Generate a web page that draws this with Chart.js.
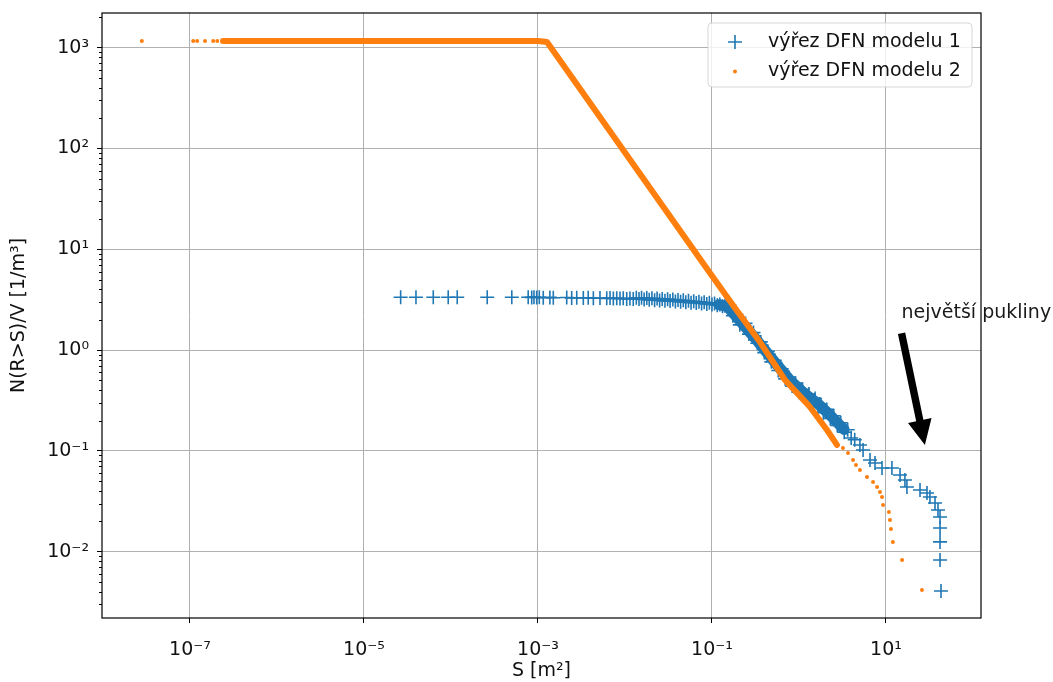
<!DOCTYPE html>
<html>
<head>
<meta charset="utf-8">
<script src="https://cdn.jsdelivr.net/npm/chart.js@4.4.1/dist/chart.umd.min.js"></script>
<style>
  body { margin: 0; background: #fff; }
  canvas { display: block; }
</style>
</head>
<body>
<canvas id="fracChart" width="1053" height="682"></canvas>
<script>
// values (S in m2, N(R>S)/V in 1/m3)

// model 1 - plus markers
const model1S = [
  2.64e-5, 3.96e-5, 6.26e-5, 9.3e-5, 1.18e-4, 2.61e-4, 5.0e-4,
  7.72e-4, 8.47e-4, 8.99e-4, 9.66e-4, 1.035e-3, 1.15e-3, 1.37e-3, 1.50e-3, 2.14e-3, 2.44e-3, 2.79e-3, 3.32e-3,
  3.78e-3, 4.33e-3, 5.16e-3, 6.17e-3, 6.73e-3, 7.35e-3, 8.04e-3, 8.77e-3, 9.55e-3, 0.01047, 0.0114, 0.01245,
  0.0135, 0.0145, 0.0155, 0.0166, 0.0178, 0.019, 0.0204, 0.0219, 0.0234, 0.025, 0.0268, 0.0288, 0.0309, 0.033,
  0.0355, 0.038, 0.0407, 0.0436, 0.0468, 0.050, 0.0537, 0.0575, 0.0617, 0.066, 0.0708, 0.0759, 0.0813, 0.0871,
  0.0933, 0.10, 0.107, 0.115, 0.123, 0.132, 0.141, 0.151,
  0.1585, 0.1738, 0.1905, 0.2089, 0.243, 0.266, 0.300, 0.332, 0.364, 0.399, 0.438, 0.481, 0.527, 0.578, 0.633,
  0.694, 0.761, 0.835, 0.915, 1.003, 1.10, 1.195, 1.30, 1.42, 1.53, 1.65, 1.738, 1.905, 2.089, 2.291, 2.512,
  2.754, 3.02, 3.311, 3.63, 3.98, 4.37,
  5.02, 5.45, 6.55, 7.48, 9.0, 11.7, 14.5, 16.5, 17.4, 24.6, 29.6, 32.0, 36.6, 39.6, 41.8, 41.8, 41.8, 41.8, 42.9
];
const model1N = [
  3.34, 3.34, 3.34, 3.34, 3.34, 3.34, 3.34,
  3.34, 3.33, 3.35, 3.32, 3.34, 3.31, 3.33, 3.30, 3.32, 3.29, 3.31, 3.28,
  3.30, 3.27, 3.29, 3.26, 3.28, 3.25, 3.27, 3.24, 3.26, 3.22, 3.25, 3.21,
  3.30, 3.22, 3.31, 3.18, 3.28, 3.15, 3.26, 3.12, 3.24, 3.10, 3.22, 3.08, 3.20, 3.06,
  3.17, 3.04, 3.14, 3.02, 3.12, 2.98, 3.08, 2.95, 3.05, 2.93, 3.02, 2.90, 2.98, 2.87,
  2.94, 2.83, 2.90, 2.78, 2.84, 2.72, 2.76, 2.65,
  2.79, 2.19, 2.27, 1.78, 1.84, 1.44, 1.49, 1.17, 1.205, 0.944, 0.975, 0.764, 0.791, 0.627, 0.653,
  0.518, 0.540, 0.439, 0.470, 0.382, 0.409, 0.337, 0.366, 0.303, 0.330, 0.272, 0.292, 0.239, 0.258, 0.210, 0.223,
  0.179, 0.190, 0.153, 0.162, 0.134, 0.129,
  0.1145, 0.102, 0.0813, 0.0759, 0.0677, 0.0677, 0.0577, 0.0514, 0.0438, 0.0409, 0.0382, 0.0349, 0.0304, 0.0259,
  0.0221, 0.0172, 0.0125, 0.00826, 0.00407
];

// model 1 - where the plus markers merge into a solid band
const model1BandS = [0.12, 0.151, 0.215, 0.34, 0.525, 0.79, 1.14, 1.62, 2.27, 3.3];
const model1BandN = [2.82, 2.70, 1.90, 1.205, 0.76, 0.50, 0.375, 0.298, 0.227, 0.163];

// model 2 - separate dots
const model2S = [
  2.8e-8, 1.09e-7, 1.21e-7, 1.49e-7, 1.85e-7, 2.06e-7,
  2.71, 3.2, 3.66, 4.18, 4.52, 5.02, 6.05, 7.1, 7.89, 8.53, 9.0, 9.25, 10.8, 11.1, 11.4, 12.0, 15.3, 25.9
];
const model2N = [
  1165, 1165, 1165, 1165, 1165, 1165,
  0.1145, 0.107, 0.0953, 0.0813, 0.0724, 0.0646, 0.0551, 0.0491, 0.0438, 0.0391, 0.0349, 0.0290, 0.0247,
  0.0206, 0.0168, 0.0125, 0.00826, 0.00417
];

// model 2 - the dense run of dots, read as a band
const model2BandS = [2.4e-7, 1.0e-3, 1.27e-3, 0.0948, 0.1837, 0.356, 0.690, 1.337, 2.10, 2.73];
const model2BandN = [1165, 1165, 1140, 5.82, 2.62, 1.20, 0.505, 0.273, 0.161, 0.1145];

const xTickValues = [1e-7, 1e-5, 1e-3, 1e-1, 1e1];
const xTickLabels = ['10⁻⁷', '10⁻⁵', '10⁻³', '10⁻¹', '10¹'];
const yTickValues = [1e-2, 1e-1, 1e0, 1e1, 1e2, 1e3];
const yTickLabels = ['10⁻²', '10⁻¹', '10⁰', '10¹', '10²', '10³'];

const noteText = 'největší pukliny';
const noteAt = [15.1, 2.33];
const arrowFrom = [15.1, 1.47];
const arrowTo = [28, 0.1145];

const BLUE = '#1f77b4';
const ORANGE = '#ff7f0e';
const FONT = 'DejaVu Sans';
const FSIZE = 19;

function toPoints(xs, ys) {
  return xs.map((v, i) => ({x: v, y: ys[i]}));
}

Chart.defaults.font.family = FONT;
Chart.defaults.color = '#000';

const extras = {
  id: 'extras',
  afterDatasetsDraw(chart) {
    const {ctx, chartArea: a, scales: {y}} = chart;
    ctx.save();
    ctx.strokeStyle = '#000';
    ctx.lineWidth = 1;
    // minor ticks on the y axis
    for (let e = -3; e <= 3; e++) {
      for (let m = 2; m <= 9; m++) {
        const v = m * Math.pow(10, e);
        if (v < y.min || v > y.max) continue;
        const py = Math.round(y.getPixelForValue(v)) + 0.5;
        ctx.beginPath();
        ctx.moveTo(a.left - 3, py);
        ctx.lineTo(a.left, py);
        ctx.stroke();
      }
    }
    ctx.lineWidth = 1.2;
    ctx.strokeRect(a.left, a.top, a.right - a.left, a.bottom - a.top);
    ctx.restore();
  },
  afterDraw(chart) {
    const {ctx, chartArea: a, scales: {x, y}} = chart;
    ctx.save();

    // legend box
    const boxW = 264, boxH = 64;
    const bx = a.right - 9 - boxW, by = a.top + 10;
    ctx.beginPath();
    ctx.roundRect(bx, by, boxW, boxH, 4);
    ctx.fillStyle = 'rgba(255,255,255,0.8)';
    ctx.fill();
    ctx.strokeStyle = 'rgba(204,204,204,0.8)';
    ctx.lineWidth = 1;
    ctx.stroke();

    const entries = chart.data.datasets.filter(d => d.label);
    entries.forEach((d, i) => {
      const cy = by + 19 + i * 29.5;
      const cx = bx + 27;
      if (d.pointStyle === 'cross') {
        ctx.strokeStyle = d.borderColor;
        ctx.lineWidth = d.borderWidth;
        ctx.beginPath();
        ctx.moveTo(cx - d.pointRadius, cy);
        ctx.lineTo(cx + d.pointRadius, cy);
        ctx.moveTo(cx, cy - d.pointRadius);
        ctx.lineTo(cx, cy + d.pointRadius);
        ctx.stroke();
      } else {
        ctx.fillStyle = d.backgroundColor;
        ctx.beginPath();
        ctx.arc(cx, cy, d.pointRadius, 0, Math.PI * 2);
        ctx.fill();
      }
      ctx.fillStyle = '#111';
      ctx.font = FSIZE + 'px "' + FONT + '"';
      ctx.textAlign = 'left';
      ctx.textBaseline = 'middle';
      ctx.fillText(d.label, bx + 60, cy);
    });

    // annotation arrow
    const x0 = x.getPixelForValue(arrowFrom[0]), y0 = y.getPixelForValue(arrowFrom[1]);
    const x1 = x.getPixelForValue(arrowTo[0]), y1 = y.getPixelForValue(arrowTo[1]);
    const len = Math.hypot(x1 - x0, y1 - y0);
    const ux = (x1 - x0) / len, uy = (y1 - y0) / len;
    const nx = -uy, ny = ux;
    const shaft = 3.7, head = 12, headLen = 25;
    const hx = x1 - ux * headLen, hy = y1 - uy * headLen;
    ctx.beginPath();
    ctx.moveTo(x0 + nx * shaft, y0 + ny * shaft);
    ctx.lineTo(hx + nx * shaft, hy + ny * shaft);
    ctx.lineTo(hx + nx * head, hy + ny * head);
    ctx.lineTo(x1, y1);
    ctx.lineTo(hx - nx * head, hy - ny * head);
    ctx.lineTo(hx - nx * shaft, hy - ny * shaft);
    ctx.lineTo(x0 - nx * shaft, y0 - ny * shaft);
    ctx.closePath();
    ctx.fillStyle = '#000';
    ctx.fill();

    ctx.font = FSIZE + 'px "' + FONT + '"';
    ctx.textAlign = 'left';
    ctx.textBaseline = 'middle';
    ctx.fillStyle = '#1a1a1a';
    ctx.fillText(noteText, x.getPixelForValue(noteAt[0]), y.getPixelForValue(noteAt[1]));
    ctx.restore();
  }
};

const myChart = new Chart('fracChart', {
  type: 'scatter',
  data: {
    datasets: [
      {
        label: 'výřez DFN modelu 1',
        data: toPoints(model1S, model1N),
        pointStyle: 'cross',
        pointRadius: 7,
        borderWidth: 1.6,
        borderColor: BLUE,
        backgroundColor: BLUE,
        order: 3
      },
      {
        label: 'výřez DFN modelu 2',
        data: toPoints(model2S, model2N),
        pointStyle: 'circle',
        pointRadius: 2,
        borderWidth: 0,
        backgroundColor: ORANGE,
        borderColor: ORANGE,
        order: 1
      },
      {
        data: toPoints(model2BandS, model2BandN),
        showLine: true,
        pointRadius: 0,
        borderWidth: 6,
        borderColor: ORANGE,
        backgroundColor: ORANGE,
        borderJoinStyle: 'round',
        borderCapStyle: 'round',
        order: 2
      },
      {
        data: toPoints(model1BandS, model1BandN),
        showLine: true,
        pointRadius: 0,
        borderWidth: 11,
        borderColor: BLUE,
        backgroundColor: BLUE,
        borderJoinStyle: 'round',
        borderCapStyle: 'round',
        order: 4
      }
    ]
  },
  options: {
    responsive: false,
    devicePixelRatio: 1,
    animation: false,
    events: [],
    layout: {padding: {top: 13, right: 72, left: 0, bottom: 0}},
    plugins: {legend: {display: false}, tooltip: {enabled: false}},
    scales: {
      x: {
        type: 'logarithmic',
        min: Math.pow(10, -8.011),
        max: Math.pow(10, 2.092),
        afterFit: (scale) => {
          scale.height = 64;
          scale.paddingLeft = 0;
          scale.paddingRight = 0;
        },
        afterBuildTicks: (scale) => { scale.ticks = xTickValues.map(v => ({value: v})); },
        ticks: {
          autoSkip: false,
          maxRotation: 0,
          padding: 16,
          color: '#111',
          font: {size: FSIZE},
          callback: (value, i) => xTickLabels[i]
        },
        grid: {color: '#b0b0b0', lineWidth: 1, tickColor: '#000', tickLength: 5},
        border: {display: false},
        title: {display: true, text: 'S [m²]', color: '#111', font: {size: FSIZE}, padding: {top: 0, bottom: 0}}
      },
      y: {
        type: 'logarithmic',
        min: Math.pow(10, -2.658),
        max: Math.pow(10, 3.344),
        afterFit: (scale) => {
          scale.width = 102;
          scale.paddingTop = 0;
          scale.paddingBottom = 0;
        },
        afterBuildTicks: (scale) => { scale.ticks = yTickValues.map(v => ({value: v})); },
        ticks: {
          autoSkip: false,
          padding: 8,
          color: '#111',
          font: {size: FSIZE},
          callback: (value, i) => yTickLabels[i]
        },
        grid: {color: '#b0b0b0', lineWidth: 1, tickColor: '#000', tickLength: 5},
        border: {display: false},
        title: {display: true, text: 'N(R>S)/V [1/m³]', color: '#111', font: {size: FSIZE}, padding: {top: 8, bottom: 0}}
      }
    }
  },
  plugins: [extras]
});
</script>
</body>
</html>
